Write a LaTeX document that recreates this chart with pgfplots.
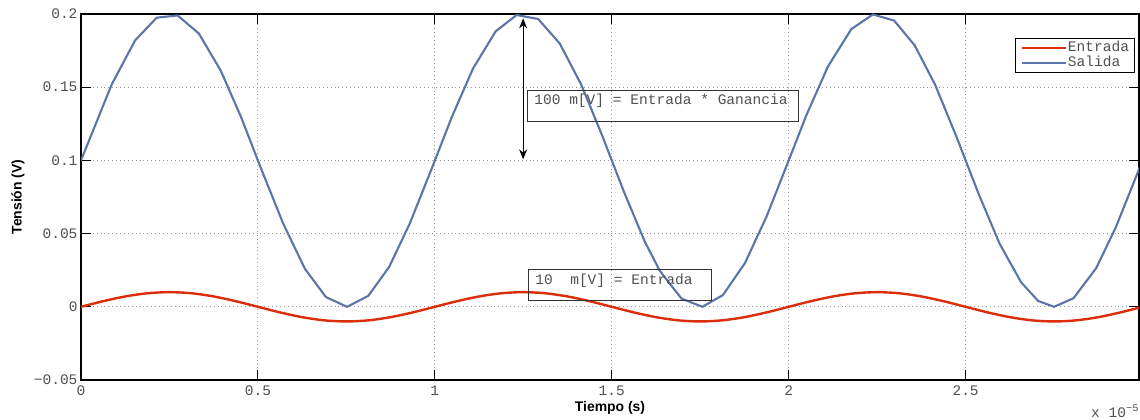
\documentclass[border=0pt]{standalone}
\usepackage{fontspec}
\setmainfont{Liberation Sans}
\newfontfamily\mono{Liberation Mono}
\newcommand\monof{\mono\fontsize{14.6}{16}\selectfont}
\newcommand\ms{\hspace*{8.76bp}}
\usepackage{pgfplots}
\pgfplotsset{compat=1.18}
\usetikzlibrary{arrows.meta,calc}
\definecolor{entrada}{RGB}{220,45,10}
\definecolor{salida}{RGB}{92,117,168}
\definecolor{ticktext}{RGB}{80,80,80}
\begin{document}
\begin{tikzpicture}
\begin{axis}[
 scale only axis, width=1058bp, height=366bp,
 xmin=0, xmax=2.99, ymin=-0.05, ymax=0.2,
 xtick={0,0.5,1,1.5,2,2.5}, xticklabels={0,0.5,1,1.5,2,2.5},
 ytick={-0.05,0,0.05,0.1,0.15,0.2}, yticklabels={−0.05,0,0.05,0.1,0.15,0.2},
 ticklabel style={font=\monof, text=ticktext},
 xticklabel style={yshift=-2bp},
 major tick length=10bp,
 every tick/.style={black, line width=1bp},
 axis line style={black, line width=1.5bp},
 grid=major,
 major grid style={gray!80, line width=0.9bp, dash pattern=on 0.9bp off 3bp},
 xlabel={Tiempo (s)}, ylabel={Tensión (V)},
 label style={font=\fontsize{14}{16}\selectfont\bfseries},
 xlabel style={at={(axis description cs:0.5,-0.0765)}, anchor=center},
 ylabel style={at={(axis description cs:-0.0595,0.5)}, anchor=center},
 legend cell align=left,
 legend style={at={(rel axis cs:0.9962,0.9352)}, anchor=north east, draw=black, line width=1bp,
   font=\monof, text=ticktext, inner xsep=5bp, inner ysep=2bp,
   nodes={inner sep=0.5bp, text height=10.5bp, text depth=3.5bp}},
 legend image code/.code={\draw[#1] (0bp,0bp) -- (44bp,0bp);},
]
\addplot[entrada, line width=2.4bp, smooth] coordinates {
(0,0) (0.0625,0.003827) (0.125,0.007071) (0.1875,0.009239) (0.25,0.01) (0.3125,0.009239) (0.375,0.007071) (0.4375,0.003827)
(0.5,0) (0.5625,-0.003827) (0.625,-0.007071) (0.6875,-0.009239) (0.75,-0.01) (0.8125,-0.009239) (0.875,-0.007071) (0.9375,-0.003827)
(1,0) (1.0625,0.003827) (1.125,0.007071) (1.1875,0.009239) (1.25,0.01) (1.3125,0.009239) (1.375,0.007071) (1.4375,0.003827)
(1.5,0) (1.5625,-0.003827) (1.625,-0.007071) (1.6875,-0.009239) (1.75,-0.01) (1.8125,-0.009239) (1.875,-0.007071) (1.9375,-0.003827)
(2,0) (2.0625,0.003827) (2.125,0.007071) (2.1875,0.009239) (2.25,0.01) (2.3125,0.009239) (2.375,0.007071) (2.4375,0.003827)
(2.5,0) (2.5625,-0.003827) (2.625,-0.007071) (2.6875,-0.009239) (2.75,-0.01) (2.8125,-0.009239) (2.875,-0.007071) (2.9375,-0.003827)
(3,0)};
\addlegendentry{Entrada}
\addplot[salida, line width=2.1bp] coordinates {
(0,0.1) (0.087,0.1520) (0.153,0.1820) (0.214,0.1975) (0.273,0.1990) (0.333,0.1867) (0.395,0.1613) (0.453,0.1292)
(0.512,0.0925) (0.572,0.0565) (0.633,0.0259) (0.692,0.0067) (0.752,0.0000) (0.812,0.0075) (0.871,0.0273) (0.929,0.0568)
(0.989,0.0931) (1.048,0.1297) (1.108,0.1628) (1.172,0.1882) (1.231,0.1993) (1.292,0.1966) (1.353,0.1798) (1.414,0.1516)
(1.474,0.1163) (1.534,0.0788) (1.593,0.0447) (1.636,0.0245) (1.697,0.0056) (1.756,0.0000) (1.814,0.0080) (1.876,0.0297)
(1.937,0.0614) (1.995,0.0969) (2.050,0.1309) (2.111,0.1642) (2.177,0.1897) (2.238,0.1997) (2.298,0.1955) (2.356,0.1786)
(2.414,0.1516) (2.475,0.1156) (2.536,0.0776) (2.596,0.0431) (2.657,0.0167) (2.705,0.0040) (2.750,0.0000) (2.805,0.0059)
(2.869,0.0264) (2.925,0.0546) (3.000,0.1000)};
\addlegendentry{Salida}
\draw[black, line width=1bp, {Stealth[length=10bp,width=8bp]}-{Stealth[length=10bp,width=8bp]}]
  (axis cs:1.2495,0.1007) -- (axis cs:1.2495,0.197);
\node[draw=black!80, line width=1bp, anchor=north west, inner xsep=7bp, inner ysep=0pt,
  text width=257bp, text height=14bp, text depth=17bp, align=left,
  font=\monof, text=ticktext]
  at (axis cs:1.2599,0.1482) {100\ms m[V]\ms=\ms Entrada\ms*\ms Ganancia};
\node[draw=black!80, line width=1bp, anchor=north west, inner xsep=7bp, inner ysep=0pt,
  text width=169bp, text height=15bp, text depth=16.4bp, align=left,
  font=\monof, text=ticktext]
  at (axis cs:1.2627,0.0258) {10\ms\ms m[V]\ms=\ms Entrada};
\end{axis}
\node[anchor=base west, inner sep=0pt, font=\monof, text=ticktext]
  at ($(current axis.south east)+(-48bp,-37bp)$) {x\ms 10\textsuperscript{−5}};
\pgfresetboundingbox
\path[use as bounding box] ($(current axis.south west)+(-81bp,-39bp)$) rectangle ($(current axis.north east)+(1bp,14bp)$);
\end{tikzpicture}
\end{document}
